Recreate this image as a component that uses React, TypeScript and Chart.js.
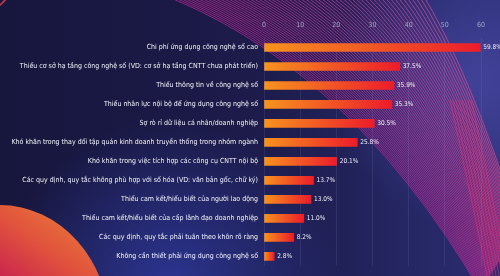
import React, { useEffect, useRef } from "react";
import { Chart, registerables } from "chart.js";

Chart.register(...registerables);

const categories: string[] = [
  "Chi phí ứng dụng công nghệ số cao",
  "Thiếu cơ sở hạ tầng công nghệ số (VD: cơ sở hạ tầng CNTT chưa phát triển)",
  "Thiếu thông tin về công nghệ số",
  "Thiếu nhân lực nội bộ để ứng dụng công nghệ số",
  "Sợ rò rỉ dữ liệu cá nhân/doanh nghiệp",
  "Khó khăn trong thay đổi tập quán kinh doanh truyền thống trong nhóm ngành",
  "Khó khăn trong việc tích hợp các công cụ CNTT nội bộ",
  "Các quy định, quy tắc không phù hợp với số hóa (VD: văn bản gốc, chữ ký)",
  "Thiếu cam kết/hiểu biết của người lao động",
  "Thiếu cam kết/hiểu biết của cấp lãnh đạo doanh nghiệp",
  "Các quy định, quy tắc phải tuân theo khôn rõ ràng",
  "Không cần thiết phải ứng dụng công nghệ số",
];

const values: number[] = [59.8, 37.5, 35.9, 35.3, 30.5, 25.8, 20.1, 13.7, 13.0, 11.0, 8.2, 2.8];

const tickValues: number[] = [0, 10, 20, 30, 40, 50, 60];

const FONT = '"DejaVu Sans Condensed", "Noto Sans", sans-serif';

const backgroundPlugin = {
  id: "bgDecor",
  beforeDraw(chart: any) {
    const ctx = chart.ctx as CanvasRenderingContext2D;
    const W = chart.width;
    const H = chart.height;
    ctx.save();
    const g = ctx.createLinearGradient(0, 0, W, 0);
    g.addColorStop(0, "#17163d");
    g.addColorStop(0.5, "#1c1b4a");
    g.addColorStop(1, "#2a2d72");
    ctx.fillStyle = g;
    ctx.fillRect(0, 0, W, H);
    const rg = ctx.createRadialGradient(170, 290, 10, 170, 290, 170);
    rg.addColorStop(0, "rgba(45,55,150,0.9)");
    rg.addColorStop(1, "rgba(45,55,150,0)");
    ctx.fillStyle = rg;
    ctx.fillRect(0, 0, W, H);
    const rg2 = ctx.createRadialGradient(480, 80, 10, 480, 80, 150);
    rg2.addColorStop(0, "rgba(70,70,160,0.8)");
    rg2.addColorStop(1, "rgba(70,70,160,0)");
    ctx.fillStyle = rg2;
    ctx.fillRect(0, 0, W, H);

    const N = 60;
    for (let i = 0; i < N; i++) {
      const t = i / (N - 1);
      const p0x = 150 + (420 - 150) * t, p0y = -10;
      const cx = 345 + (470 - 345) * t, cy = 60 + (70 - 60) * t;
      const p2x = 480 + (520 - 480) * t, p2y = 290 + (230 - 290) * t;
      ctx.beginPath();
      ctx.moveTo(p0x, p0y);
      ctx.quadraticCurveTo(cx, cy, p2x, p2y);
      ctx.strokeStyle = `rgba(${190 + 30 * t},${40 + 30 * t},${150 - 10 * t},0.75)`;
      ctx.lineWidth = 1;
      ctx.stroke();
    }
    for (let i = 0; i < 8; i++) {
      ctx.beginPath();
      ctx.moveTo(450 + i * 3, 100);
      ctx.quadraticCurveTo(470 + i * 3, 190, 490 + i * 3, 290);
      ctx.strokeStyle = "rgba(235,45,110,0.6)";
      ctx.lineWidth = 1;
      ctx.stroke();
    }
    ctx.beginPath();
    ctx.arc(-20, -20, 32, 0, Math.PI / 2);
    ctx.strokeStyle = "rgba(220,60,80,0.8)";
    ctx.lineWidth = 2;
    ctx.stroke();

    ctx.beginPath();
    ctx.ellipse(0, 330, 110, 125, 0, 0, Math.PI * 2);
    const og = ctx.createLinearGradient(70, 205, 10, 290);
    og.addColorStop(0, "#ea7a36");
    og.addColorStop(0.5, "#e0503e");
    og.addColorStop(1, "#c8214f");
    ctx.fillStyle = og;
    ctx.fill();
    ctx.restore();
  },
};

const labelPlugin = {
  id: "valLabels",
  afterDatasetsDraw(chart: any) {
    const ctx = chart.ctx as CanvasRenderingContext2D;
    const meta = chart.getDatasetMeta(0);
    ctx.save();
    ctx.font = `6.5px ${FONT}`;
    ctx.fillStyle = "#f2f2f7";
    ctx.textAlign = "left";
    ctx.textBaseline = "middle";
    meta.data.forEach((bar: any, i: number) => {
      ctx.fillText(values[i].toFixed(1) + "%", bar.x + 3, bar.y);
    });
    ctx.restore();
  },
};

export default function App() {
  const ref = useRef<HTMLCanvasElement | null>(null);
  useEffect(() => {
    if (!ref.current) return;
    const chart = new Chart(ref.current, {
      type: "bar",
      data: {
        labels: categories,
        datasets: [
          {
            data: values,
            barThickness: 8,
            borderWidth: 0,
            backgroundColor: (c: any) => {
              const ch = c.chart;
              const area = ch.chartArea;
              if (!area || c.dataIndex === undefined) return "#ef4a24";
              const xs = ch.scales.x;
              const x0 = xs.getPixelForValue(0);
              const x1 = xs.getPixelForValue(values[c.dataIndex]);
              const gr = ch.ctx.createLinearGradient(x0, 0, Math.max(x1, x0 + 1), 0);
              gr.addColorStop(0, "#f7931e");
              gr.addColorStop(1, "#ec1c2a");
              return gr;
            },
          },
        ],
      },
      options: {
        indexAxis: "y",
        animation: false,
        responsive: false,
        maintainAspectRatio: false,
        layout: { padding: { top: 0, right: 19, bottom: 0, left: 0 } },
        plugins: { legend: { display: false }, tooltip: { enabled: false } },
        scales: {
          x: {
            position: "top",
            min: 0,
            max: 60,
            afterBuildTicks: (s: any) => {
              s.ticks = tickValues.map((v) => ({ value: v }));
            },
            afterFit: (s: any) => {
              s.height = 38;
            },
            grid: { color: "rgba(150,160,220,0.13)", drawTicks: false },
            border: { display: false },
            ticks: {
              padding: 9,
              color: "rgba(185,190,225,0.8)",
              font: { size: 7, family: FONT },
            },
          },
          y: {
            afterFit: (s: any) => {
              s.width = 264;
            },
            grid: { display: false, drawTicks: false },
            border: { display: false },
            ticks: {
              padding: 6,
              color: "#f4f4f8",
              autoSkip: false,
              font: { size: 7, family: FONT },
            },
          },
        },
      } as any,
      plugins: [backgroundPlugin, labelPlugin],
    });
    return () => chart.destroy();
  }, []);
  return (
    <div style={{ position: "fixed", left: 0, top: 0, width: 500, height: 276 }}>
      <canvas ref={ref} width={500} height={276} style={{ width: 500, height: 276, display: "block" }} />
    </div>
  );
}
